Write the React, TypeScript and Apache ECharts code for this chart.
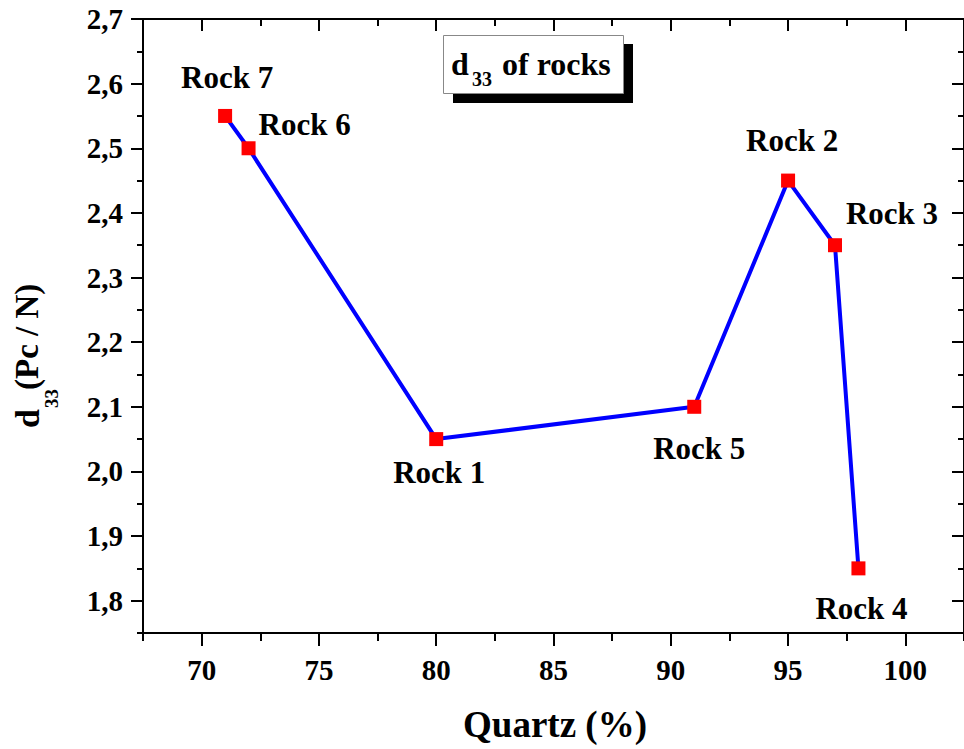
import { useEffect, useRef } from 'react';
import * as echarts from 'echarts';

const rockNames = ['Rock 7', 'Rock 6', 'Rock 1', 'Rock 5', 'Rock 2', 'Rock 3', 'Rock 4'];
const quartzPct = [71, 72, 80, 91, 95, 97, 98];
const d33Values = [2.55, 2.5, 2.05, 2.1, 2.45, 2.35, 1.85];
const labelOffsets = [[2, -38], [56, -24], [3, 33], [5, 42], [4, -40], [57, -32], [3, 40]];

const xMajorTicks = [70, 75, 80, 85, 90, 95, 100];
const xMinorTicks = [67.5, 72.5, 77.5, 82.5, 87.5, 92.5, 97.5, 102.5];
const yMajorTicks = [1.8, 1.9, 2.0, 2.1, 2.2, 2.3, 2.4, 2.5, 2.6, 2.7];
const yMinorTicks = [1.75, 1.85, 1.95, 2.05, 2.15, 2.25, 2.35, 2.45, 2.55, 2.65];

const X_MIN = 67.5;
const X_MAX = 102.5;
const Y_MIN = 1.75;
const Y_MAX = 2.7;

const FONT = "'Liberation Serif', 'Times New Roman', serif";

export default function App() {
  const ref = useRef<HTMLDivElement>(null);
  useEffect(() => {
    if (!ref.current) return;
    const chart = echarts.init(ref.current, undefined, { renderer: 'svg' });
    const gridBox = { left: 143, top: 19, width: 826, height: 614, containLabel: false };
    const line = { show: true, lineStyle: { color: '#000', width: 2 } };
    const noLine = { show: false };
    const mkX = (gi: number, pos: string, ticks: number[], len: number, inside: boolean, axisLine: any, labels: boolean) => ({
      type: 'value', gridIndex: gi, position: pos, min: X_MIN, max: X_MAX,
      axisLine, splitLine: { show: false },
      axisTick: { show: true, inside, length: len, customValues: ticks, lineStyle: { color: '#000', width: 2 } },
      axisLabel: labels
        ? { show: true, customValues: ticks, margin: 22, color: '#000', fontFamily: FONT, fontWeight: 'bold', fontSize: 29 }
        : { show: false },
    });
    const mkY = (gi: number, pos: string, ticks: number[], len: number, inside: boolean, axisLine: any, labels: boolean) => ({
      type: 'value', gridIndex: gi, position: pos, min: Y_MIN, max: Y_MAX,
      axisLine, splitLine: { show: false },
      axisTick: { show: true, inside, length: len, customValues: ticks, lineStyle: { color: '#000', width: 2 } },
      axisLabel: labels
        ? {
            show: true, customValues: ticks, margin: 20, color: '#000', fontFamily: FONT, fontWeight: 'bold', fontSize: 29,
            formatter: (v: number) => v.toFixed(1).replace('.', ','),
          }
        : { show: false },
    });
    chart.setOption({
      animation: false,
      backgroundColor: '#fff',
      grid: [gridBox, gridBox, gridBox, gridBox],
      xAxis: [
        mkX(0, 'bottom', xMajorTicks, 13, false, line, true),
        mkX(1, 'top', xMajorTicks, 12, true, line, false),
        mkX(2, 'bottom', xMinorTicks, 8, false, noLine, false),
        mkX(3, 'top', xMinorTicks, 7, true, noLine, false),
      ],
      yAxis: [
        mkY(0, 'left', yMajorTicks, 12, false, line, true),
        mkY(1, 'right', yMajorTicks, 12, true, line, false),
        mkY(2, 'left', yMinorTicks, 6, false, noLine, false),
        mkY(3, 'right', yMinorTicks, 6, true, noLine, false),
      ],
      series: [
        {
          type: 'line',
          xAxisIndex: 0,
          yAxisIndex: 0,
          data: quartzPct.map((x, i) => ({
            name: rockNames[i],
            value: [x, d33Values[i]],
            label: { offset: labelOffsets[i] },
          })),
          symbol: 'rect',
          symbolSize: 14,
          showAllSymbol: true,
          lineStyle: { color: '#0000FF', width: 4 },
          itemStyle: { color: '#FF0000' },
          label: {
            show: true, position: 'inside', formatter: '{b}', color: '#000', textBorderWidth: 0,
            fontFamily: FONT, fontWeight: 'bold', fontSize: 31, align: 'center', verticalAlign: 'middle',
          },
        },
      ],
      graphic: [
        { type: 'rect', left: 453, top: 44, shape: { width: 180, height: 59 }, style: { fill: '#000' }, z: 10 },
        { type: 'rect', left: 443, top: 35, shape: { width: 180, height: 58 }, style: { fill: '#fff', stroke: '#888', lineWidth: 1 }, z: 11 },
        { type: 'text', x: 451, y: 64, z: 12, style: { text: 'd', font: `bold 32px ${FONT}`, fill: '#000', verticalAlign: 'middle', align: 'left' } },
        { type: 'text', x: 472, y: 79, z: 12, style: { text: '33', font: `bold 20px ${FONT}`, fill: '#000', verticalAlign: 'middle', align: 'left' } },
        { type: 'text', x: 502, y: 64, z: 12, style: { text: 'of rocks', font: `bold 32px ${FONT}`, fill: '#000', verticalAlign: 'middle', align: 'left' } },
        {
          type: 'text', x: 555, y: 724, z: 12,
          style: { text: 'Quartz (%)', font: `bold 37px ${FONT}`, fill: '#000', align: 'center', verticalAlign: 'middle' },
        },
        {
          type: 'group', x: 27, y: 428, rotation: Math.PI / 2, z: 12,
          children: [
            { type: 'text', x: 0, y: 0, z: 12, style: { text: 'd', font: `bold 34px ${FONT}`, fill: '#000', verticalAlign: 'middle', align: 'left' } },
            { type: 'text', x: 20, y: 24, z: 12, style: { text: '33', font: `bold 19px ${FONT}`, fill: '#000', verticalAlign: 'middle', align: 'left' } },
            { type: 'text', x: 38, y: 0, z: 12, style: { text: '(Pc / N)', font: `bold 33px ${FONT}`, fill: '#000', verticalAlign: 'middle', align: 'left' } },
          ],
        },
      ],
    });
    return () => chart.dispose();
  }, []);
  return <div ref={ref} style={{ position: 'absolute', left: 0, top: 0, width: 964, height: 749 }} />;
}
